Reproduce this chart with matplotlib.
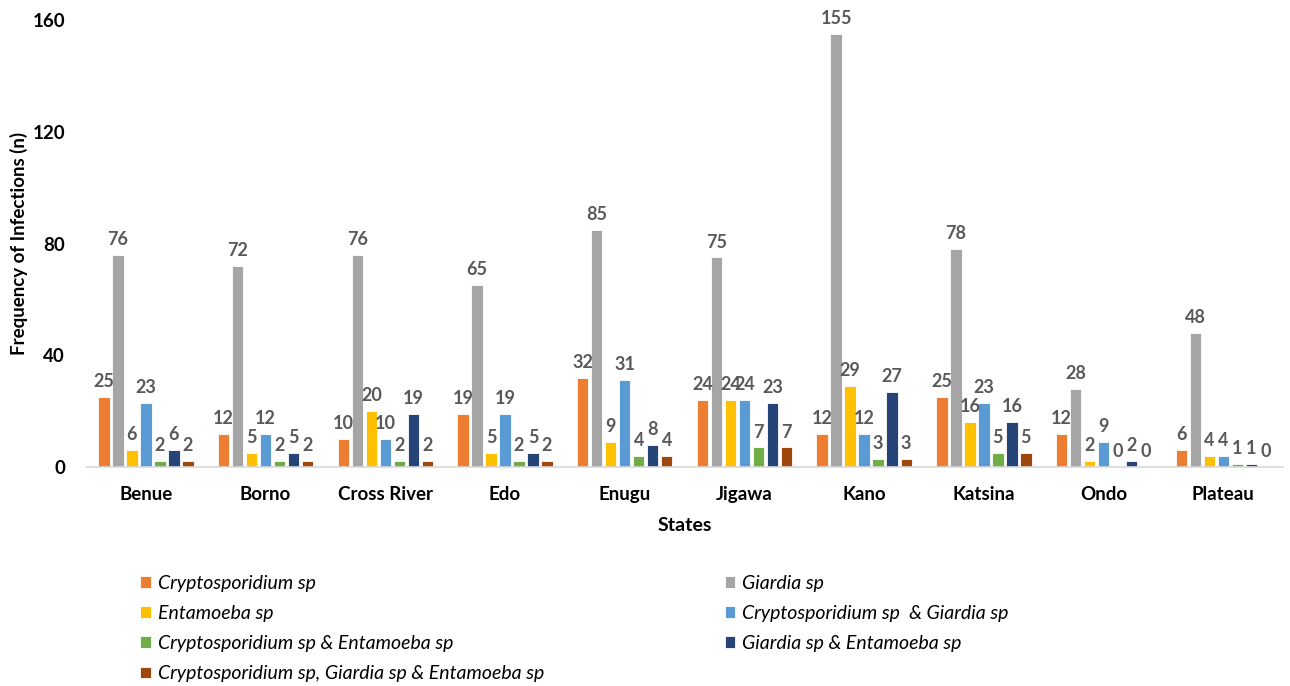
import matplotlib
matplotlib.use("Agg")
import matplotlib.pyplot as plt
import numpy as np

plt.rcParams['font.family'] = ['Lato', 'DejaVu Sans']

states = ["Benue", "Borno", "Cross River", "Edo", "Enugu", "Jigawa",
          "Kano", "Katsina", "Ondo", "Plateau"]

crypto = [25, 12, 10, 19, 32, 24, 12, 25, 12, 6]
giardia = [76, 72, 76, 65, 85, 75, 155, 78, 28, 48]
entamoeba = [6, 5, 20, 5, 9, 24, 29, 16, 2, 4]
crypto_giardia = [23, 12, 10, 19, 31, 24, 12, 23, 9, 4]
crypto_entamoeba = [2, 2, 2, 2, 4, 7, 3, 5, 0, 1]
giardia_entamoeba = [6, 5, 19, 5, 8, 23, 27, 16, 2, 1]
all_three = [2, 2, 2, 2, 4, 7, 3, 5, 0, 0]

series = [
    ("Cryptosporidium sp", crypto, "#ED7D31"),
    ("Giardia sp", giardia, "#A5A5A5"),
    ("Entamoeba sp", entamoeba, "#FFC000"),
    ("Cryptosporidium sp  & Giardia sp", crypto_giardia, "#5B9BD5"),
    ("Cryptosporidium sp & Entamoeba sp", crypto_entamoeba, "#70AD47"),
    ("Giardia sp & Entamoeba sp", giardia_entamoeba, "#264478"),
    ("Cryptosporidium sp, Giardia sp & Entamoeba sp", all_three, "#9E480E"),
]

fig = plt.figure(figsize=(12.9, 6.86), dpi=100)
ax = fig.add_axes([0.0667, 0.3192, 0.928, 0.6516])

x = np.arange(len(states))
pitch = 0.117
width = 0.095
handles = {}
for i, (name, vals, color) in enumerate(series):
    pos = x + (i - 3) * pitch
    bars = ax.bar(pos, vals, width=width, color=color, edgecolor="white",
                  linewidth=0.6, label=name)
    handles[name] = bars
    for xp, v in zip(pos, vals):
        ax.annotate(str(v), (xp, v), xytext=(0, 5), textcoords="offset points",
                    ha="center", va="bottom", fontsize=13, fontweight="bold",
                    color="#595959")

ax.set_xlim(-0.5, len(states) - 0.5)
ax.set_ylim(0, 160)
ax.set_yticks([0, 40, 80, 120, 160])
ax.set_xticks(x)
ax.set_xticklabels(states)
for lbl in ax.get_xticklabels() + ax.get_yticklabels():
    lbl.set_fontweight("bold")
    lbl.set_fontsize(13.5)
ax.tick_params(axis="both", length=0)
ax.tick_params(axis="x", pad=14)
ax.tick_params(axis="y", pad=15)
for s in ["top", "right", "left"]:
    ax.spines[s].set_visible(False)
ax.spines["bottom"].set_color("#D9D9D9")
ax.spines["bottom"].set_linewidth(1.2)

ax.set_xlabel("States", fontsize=14, fontweight="bold", labelpad=10)
ax.set_ylabel("Frequency of Infections (n)", fontsize=13.5, fontweight="bold",
              labelpad=3)

order = [0, 2, 4, 6, 1, 3, 5]
leg_handles = [handles[series[k][0]] for k in order]
leg_labels = [series[k][0] for k in order]
fig.legend(leg_handles, leg_labels, ncol=2, loc="upper left",
           bbox_to_anchor=(0.098, 0.182), frameon=False,
           prop={"style": "italic", "size": 14},
           handlelength=0.55, handleheight=0.55, handletextpad=0.35,
           labelspacing=0.68, columnspacing=9.3, borderpad=0.2)

fig.savefig("out.png", dpi=100)
